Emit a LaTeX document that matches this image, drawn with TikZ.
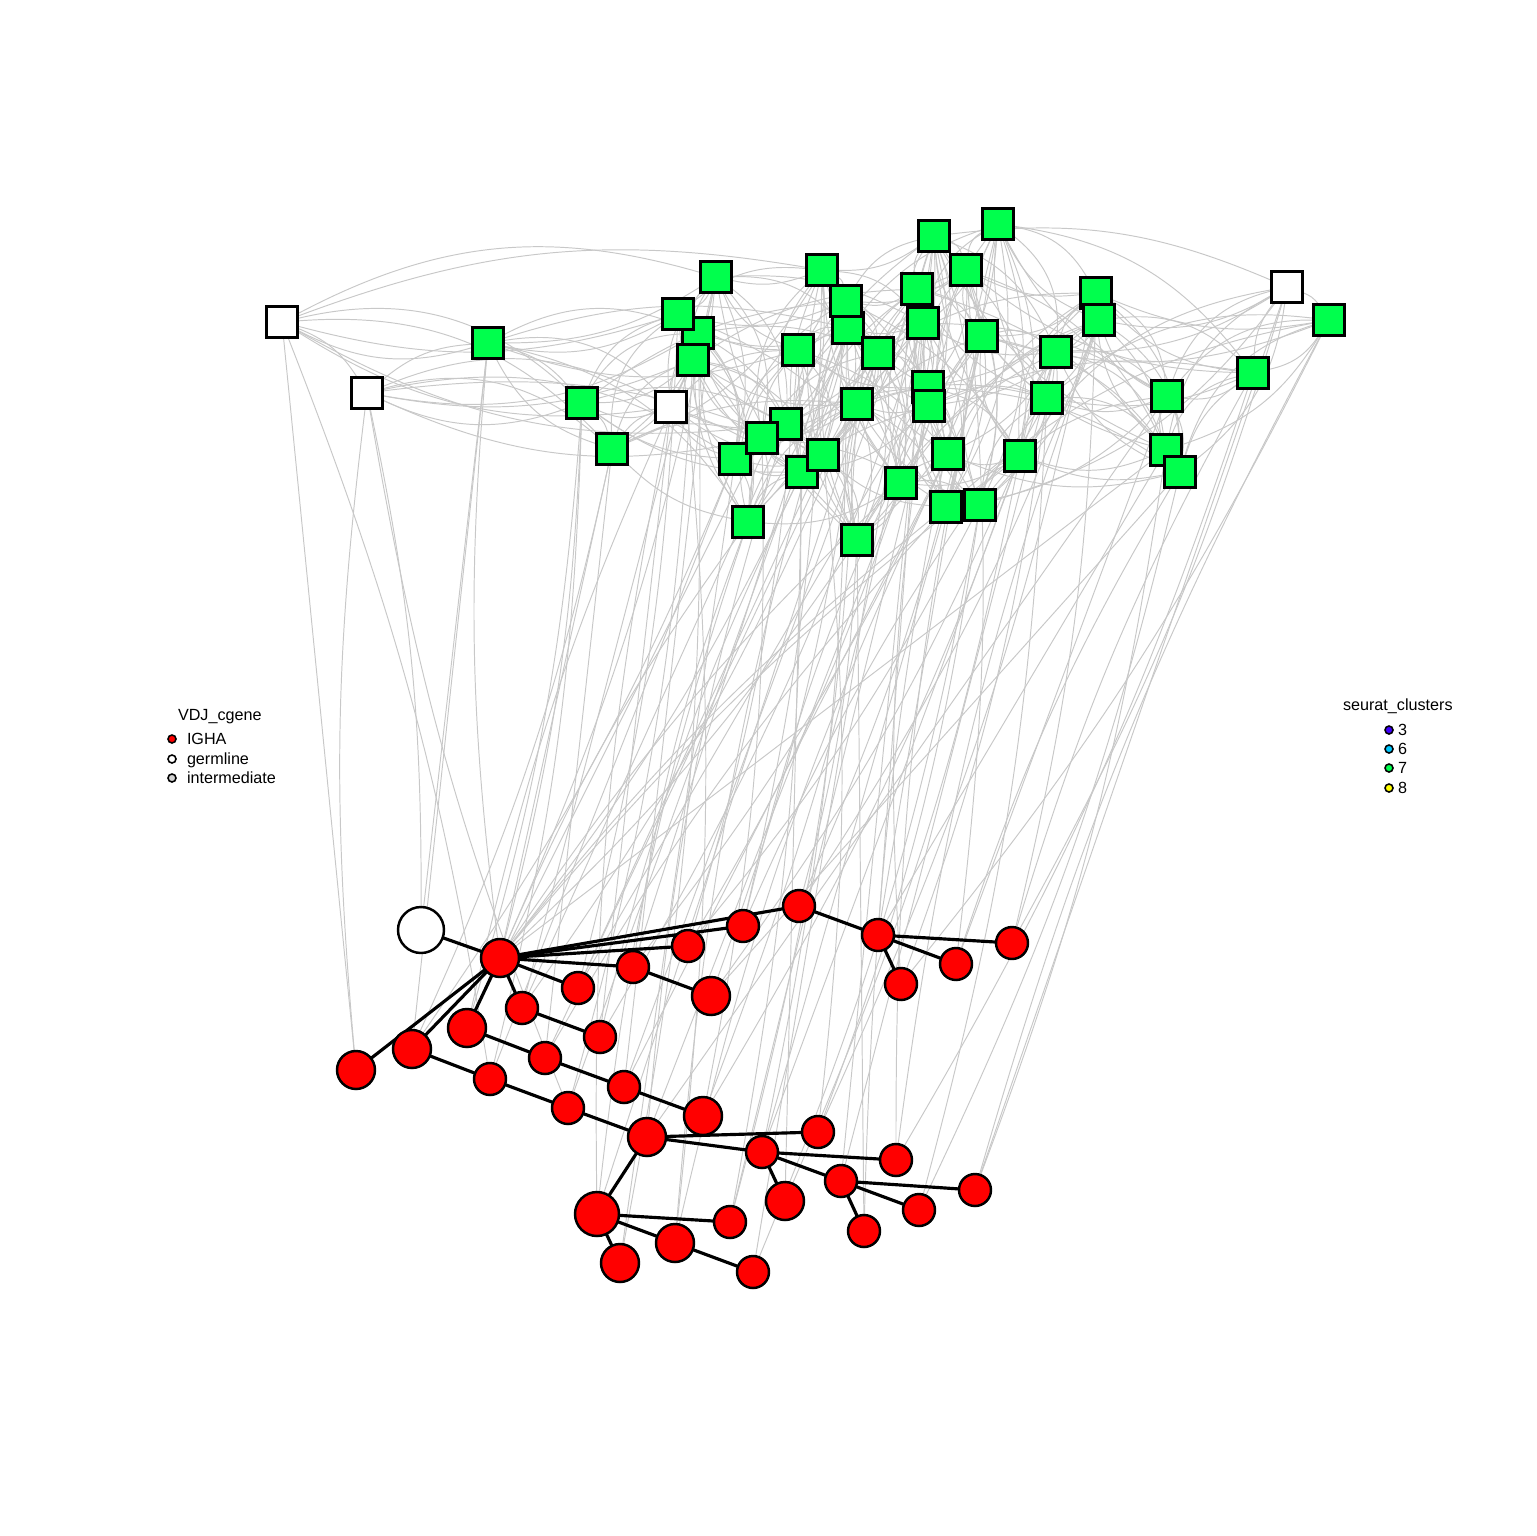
\documentclass[tikz,border=0pt]{standalone}
\usepackage{fontspec}
\setmainfont{Liberation Sans}
\definecolor{cellgreen}{HTML}{00FF4D}
\definecolor{edgegray}{RGB}{200,200,200}
\definecolor{clthree}{HTML}{4000FF}
\definecolor{clsix}{HTML}{00C8FF}
\definecolor{cleight}{HTML}{FFFF00}
\pgfdeclarelayer{bg}
\pgfdeclarelayer{mid}
\pgfsetlayers{bg,mid,main}
\begin{document}
\begin{tikzpicture}[x=0.2mm,y=-0.2mm,inner sep=0pt,outer sep=0pt,
cell/.style={draw,rectangle,minimum size=6.2mm,line width=1.4pt},
seq/.style={draw,circle,line width=1.4pt},
link/.style={edgegray,line width=0.55pt},
treeedge/.style={line width=1.8pt},
key/.style={draw,circle,minimum size=1.6mm,line width=0.9pt},
lbl/.style={anchor=base west,font=\fontsize{9.2}{11}\selectfont}]
\useasboundingbox (0,0) rectangle (1536,1536);
% cells
\foreach \n/\x/\y/\f in {1/282/322/white, 2/367/393/white, 3/488/343/cellgreen, 4/582/403/cellgreen,
  5/612/449/cellgreen, 6/671/407/white, 7/698/333/cellgreen, 8/678/314/cellgreen, 9/693/360/cellgreen,
  10/716/277/cellgreen, 11/735/459/cellgreen, 12/748/522/cellgreen, 13/786/424/cellgreen, 14/762/438/cellgreen,
  15/798/350/cellgreen, 16/802/472/cellgreen, 17/822/270/cellgreen, 18/823/455/cellgreen, 19/848/328/cellgreen,
  20/846/301/cellgreen, 21/857/404/cellgreen, 22/857/540/cellgreen, 23/878/353/cellgreen, 24/901/483/cellgreen,
  25/917/289/cellgreen, 26/923/323/cellgreen, 27/928/387/cellgreen, 28/929/406/cellgreen, 29/934/236/cellgreen,
  30/946/507/cellgreen, 31/948/454/cellgreen, 32/966/270/cellgreen, 33/980/505/cellgreen, 34/982/336/cellgreen,
  35/998/224/cellgreen, 36/1020/456/cellgreen, 37/1047/398/cellgreen, 38/1056/352/cellgreen, 39/1096/293/cellgreen,
  40/1099/320/cellgreen, 41/1166/450/cellgreen, 42/1167/396/cellgreen, 43/1180/472/cellgreen, 44/1253/373/cellgreen,
  45/1287/287/white, 46/1329/320/cellgreen}
  \draw (\x,\y) node[cell,fill=\f] (s\n) {};
% sequences
\foreach \n/\x/\y/\d/\f in {1/421/930/9.2/white, 2/500/958/7.6/red, 3/356/1070/7.6/red, 4/412/1049/7.6/red,
  5/467/1028/7.6/red, 6/522/1008/6.4/red, 7/578/988/6.4/red, 8/633/967/6.4/red, 9/688/946/6.4/red,
  10/743/926/6.4/red, 11/799/906/6.4/red, 12/711/996/7.6/red, 13/600/1037/6.4/red, 14/545/1058/6.4/red,
  15/624/1087/6.4/red, 16/703/1116/7.6/red, 17/490/1079/6.4/red, 18/568/1108/6.4/red, 19/647/1137/7.6/red,
  20/878/935/6.4/red, 21/1012/943/6.4/red, 22/956/964/6.4/red, 23/901/984/6.4/red, 24/818/1132/6.4/red,
  25/762/1152/6.4/red, 26/597/1214/8.8/red, 27/730/1222/6.4/red, 28/675/1243/7.6/red, 29/620/1263/7.6/red,
  30/753/1272/6.4/red, 31/896/1160/6.4/red, 32/841/1181/6.4/red, 33/785/1201/7.6/red, 34/975/1190/6.4/red,
  35/919/1210/6.4/red, 36/864/1231/6.4/red}
  \draw (\x,\y) node[seq,minimum size=\d mm,fill=\f] (c\n) {};
\begin{pgfonlayer}{bg}
% cell to cell
\foreach \i in {1,...,45}
  \foreach \k/\b in {1/18,2/-22,3/28,4/25,5/-20,7/-16,9/22,12/-18,16/15}{
    \pgfmathtruncatemacro\j{\i+\k}
    \ifnum\j<47 \draw[link] (s\i) to[bend left=\b] (s\j); \fi
  }
% sequence to cell
\foreach \c/\l in {1/{2,3}, 2/{3,4,5,10,12,16,22,24,30,36,41}, 3/{1,2}, 4/{3,5,11}, 5/{4,9,14},
  6/{7,13,21}, 7/{8,18,27}, 8/{12,20,31}, 9/{15,24,33}, 10/{17,28,37}, 11/{22,34,40}, 12/{21,36,43},
  13/{6,16,26}, 14/{5,23,30}, 15/{10,25,31}, 16/{14,29,38}, 17/{1,4,11}, 18/{2,9,19}, 19/{13,24,42},
  20/{26,35,41}, 21/{39,44,45}, 22/{32,42,43}, 23/{27,37,46}, 24/{18,33,39}, 25/{20,30,36},
  26/{6,12,23}, 27/{15,21,28}, 28/{8,19,31}, 29/{7,11}, 30/{25,33}, 31/{34,40,44}, 32/{29,38},
  33/{16,36}, 34/{45,46,41}, 35/{37,43}, 36/{22,35}}
  \foreach \s in \l {
    \pgfmathtruncatemacro\bb{mod(\s+\c,3)*6-6}
    \draw[link] (c\c) to[bend left=\bb] (s\s);
  }
\end{pgfonlayer}
\begin{pgfonlayer}{mid}
\foreach \a/\b in {1/2, 2/3, 2/4, 2/5, 2/6, 2/7, 2/8, 2/9, 2/10, 2/11, 8/12, 6/13, 5/14, 14/15, 15/16,
  4/17, 17/18, 18/19, 11/20, 20/21, 20/22, 20/23, 19/24, 19/25, 19/26, 26/27, 26/28, 26/29, 28/30,
  25/31, 25/32, 25/33, 32/34, 32/35, 32/36}
  \draw[treeedge] (c\a) -- (c\b);
\end{pgfonlayer}
% legends
\node[lbl] (vdjtitle) at (178,720) {VDJ\_cgene};
\foreach \n/\y/\f/\t in {1/739/red/IGHA, 2/759/white/germline, 3/778/gray!35/intermediate}{
  \draw (172,\y) node[key,fill=\f] (vk\n) {};
  \node[lbl] (vt\n) at (187,\y+5) {\t};
}
\node[lbl] (cltitle) at (1343,710) {seurat\_clusters};
\foreach \n/\y/\f in {3/730/clthree, 6/749/clsix, 7/768/cellgreen, 8/788/cleight}{
  \draw (1389,\y) node[key,fill=\f] (ck\n) {};
  \node[lbl] (ct\n) at (1398,\y+5) {\n};
}
\end{tikzpicture}
\end{document}
